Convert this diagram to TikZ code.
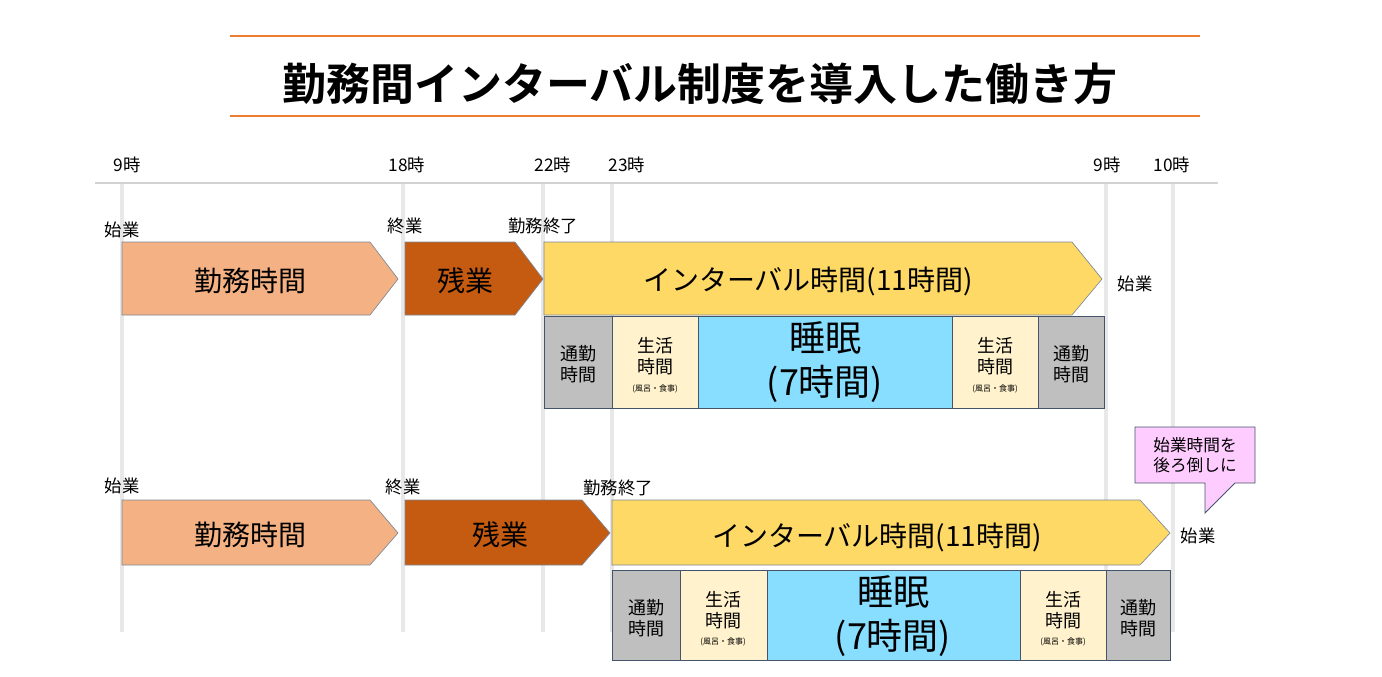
\documentclass[tikz,border=0pt]{standalone}
\usepackage{fontspec}
\setmainfont{Noto Sans CJK JP}
\newfontfamily\jpb{Noto Sans CJK JP Bold}
\definecolor{orline}{HTML}{ED7D31}
\definecolor{work}{HTML}{F4B183}
\definecolor{over}{HTML}{C55A11}
\definecolor{yel}{HTML}{FFD966}
\definecolor{sleep}{HTML}{87DEFF}
\definecolor{cream}{HTML}{FFF2CC}
\definecolor{gr}{HTML}{BFBFBF}
\definecolor{bd}{HTML}{44546A}
\definecolor{vl}{HTML}{E8E8E8}
\definecolor{pinkc}{HTML}{FFCCFF}
\begin{document}
\begin{tikzpicture}[x=0.75pt,y=-0.75pt,
  lbl/.style={font=\fontsize{13}{15}\selectfont,inner sep=0pt},
  arr/.style={draw=bd!70,line width=0.5pt},
  cell/.style={draw=bd,line width=0.6pt},
  big/.style={font=\fontsize{21}{24}\selectfont},
  mid/.style={font=\fontsize{13.5}{16}\selectfont,align=center},
  tiny/.style={font=\fontsize{6}{7}\selectfont}]
\useasboundingbox (0,0) rectangle (1382,676);
% title
\draw[orline,line width=1.5pt] (230,36) -- (1200,36);
\draw[orline,line width=1.5pt] (230,116) -- (1200,116);
\node[font=\jpb\fontsize{33}{36}\selectfont] (title) at (700,84) {勤務間インターバル制度を導入した働き方};
% timeline
\foreach \x in {122,403,543,612,1106,1173}
  \draw[vl,line width=3.5pt] (\x,183) -- (\x,632);
\draw[gr!70,line width=2pt] (95,183) -- (1218,183);
\node[lbl] (h1) at (127,165) {9時};
\node[lbl] (h2) at (407,165) {18時};
\node[lbl] (h3) at (553,165) {22時};
\node[lbl] (h4) at (627,165) {23時};
\node[lbl] (h5) at (1107,165) {9時};
\node[lbl] (h6) at (1172,165) {10時};
% row 1
\node[lbl] (s1) at (122,230) {始業};
\node[lbl] (e1) at (405,226) {終業};
\node[lbl] (f1) at (543,226) {勤務終了};
\fill[work,arr] (122,242) -- (370,242) -- (398,279) -- (370,315) -- (122,315) -- cycle;
\node[big] (w1) at (250,281) {勤務時間};
\fill[over,arr] (405,242) -- (515,242) -- (543,279) -- (515,315) -- (405,315) -- cycle;
\node[big] (o1) at (465,281) {残業};
\fill[yel,arr] (544,242) -- (1072,242) -- (1102,279) -- (1072,315) -- (544,315) -- cycle;
\node[big] (i1) at (808,281) {インターバル時間(11時間)};
\node[lbl] (g1) at (1135,284) {始業};
\filldraw[gr,cell] (544,316) rectangle (612,408);
\filldraw[cream,cell] (612,316) rectangle (698,408);
\filldraw[sleep,cell] (698,316) rectangle (952,408);
\filldraw[cream,cell] (952,316) rectangle (1038,408);
\filldraw[gr,cell] (1038,316) rectangle (1104,408);
\node[mid] (a1) at (578,364) {通勤\\時間};
\node[mid] (b1) at (655,356) {生活\\時間};
\node[tiny] (b1s) at (655,389) {(風呂・食事)};
\node[font=\fontsize{27}{33}\selectfont,align=center] (c1) at (825,362) {睡眠\\(7時間)};
\node[mid] (d1) at (995,356) {生活\\時間};
\node[tiny] (d1s) at (995,389) {(風呂・食事)};
\node[mid] (e1b) at (1071,364) {通勤\\時間};
% row 2
\node[lbl] (s2) at (122,486) {始業};
\node[lbl] (e2) at (403,487) {終業};
\node[lbl] (f2) at (618,488) {勤務終了};
\fill[work,arr] (122,500) -- (370,500) -- (398,533) -- (370,565) -- (122,565) -- cycle;
\node[big] (w2) at (250,535) {勤務時間};
\fill[over,arr] (405,500) -- (582,500) -- (610,533) -- (582,565) -- (405,565) -- cycle;
\node[big] (o2) at (500,535) {残業};
\fill[yel,arr] (612,500) -- (1140,500) -- (1170,533) -- (1140,565) -- (612,565) -- cycle;
\node[big] (i2) at (877,537) {インターバル時間(11時間)};
\node[lbl] (g2) at (1198,536) {始業};
\filldraw[gr,cell] (612,570) rectangle (680,660);
\filldraw[cream,cell] (680,570) rectangle (767,660);
\filldraw[sleep,cell] (767,570) rectangle (1020,660);
\filldraw[cream,cell] (1020,570) rectangle (1106,660);
\filldraw[gr,cell] (1106,570) rectangle (1170,660);
\node[mid] (a2) at (646,618) {通勤\\時間};
\node[mid] (b2) at (723,610) {生活\\時間};
\node[tiny] (b2s) at (723,642) {(風呂・食事)};
\node[font=\fontsize{27}{33}\selectfont,align=center] (c2) at (893,616) {睡眠\\(7時間)};
\node[mid] (d2) at (1063,610) {生活\\時間};
\node[tiny] (d2s) at (1063,642) {(風呂・食事)};
\node[mid] (e2b) at (1138,618) {通勤\\時間};
% callout
\filldraw[fill=pinkc,draw=bd,line width=0.6pt] (1135,427) -- (1255,427) -- (1255,483) -- (1235,483) -- (1205,513) -- (1205,483) -- (1135,483) -- cycle;
\node[font=\fontsize{12.5}{15}\selectfont,align=center] (call) at (1195,455) {始業時間を\\後ろ倒しに};
\end{tikzpicture}
\end{document}
